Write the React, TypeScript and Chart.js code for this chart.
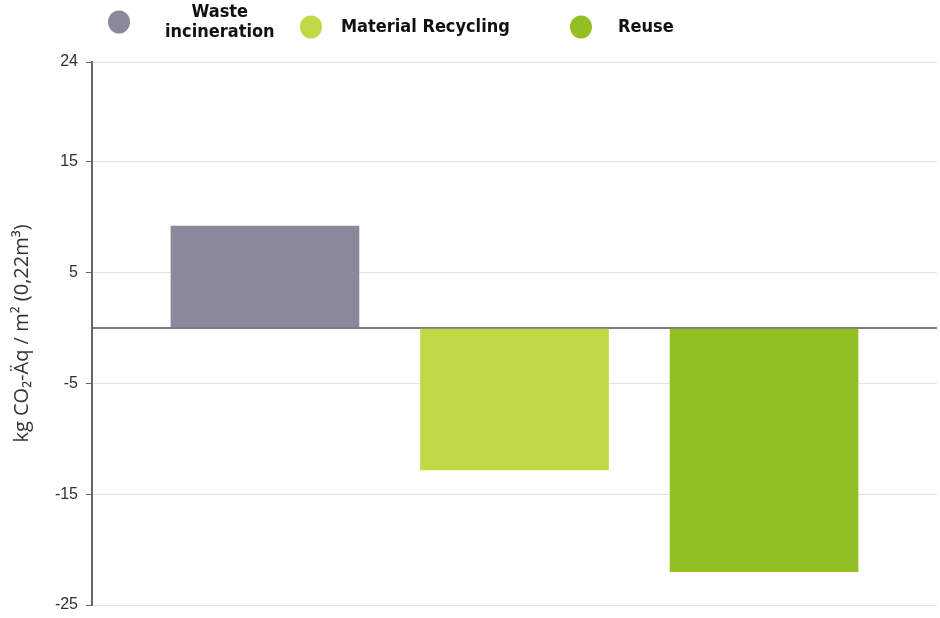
import React, { useEffect, useRef } from "react";
import { Chart, registerables } from "chart.js";

Chart.register(...registerables);

// ---- data ----
const CATEGORIES: string[][] = [["Waste", "incineration"], ["Material Recycling"], ["Reuse"]];
const VALUES: number[] = [9.2, -12.8, -22];
const Y_TICKS: number[] = [24, 15, 5, 0, -5, -15, -25];
const Y_TITLE = "kg CO₂-Äq / m² (0,22m³)";

// ---- styles ----
const COLORS = ["#8a899b", "#c0d846", "#92bf22"];
const LEGEND_LAYOUT = [
  { cx: 119, cy: 22, tx: 165 },
  { cx: 311, cy: 27, tx: 341 },
  { cx: 581, cy: 27, tx: 618 },
];
const LEGEND_FONT = "bold 18px 'Liberation Sans Narrow', 'DejaVu Sans Condensed', sans-serif";

const legendPlugin = {
  id: "customTopLegend",
  afterDraw(chart: any) {
    const ctx = chart.ctx as CanvasRenderingContext2D;
    ctx.save();
    chart.data.datasets.forEach((ds: any, i: number) => {
      const lay = LEGEND_LAYOUT[i];
      ctx.beginPath();
      ctx.fillStyle = ds.backgroundColor;
      ctx.ellipse(lay.cx, lay.cy, 11, 11.5, 0, 0, Math.PI * 2);
      ctx.fill();
      ctx.font = LEGEND_FONT;
      ctx.fillStyle = "#111";
      ctx.textBaseline = "middle";
      const lines: string[] = ds.legendLines;
      const widths = lines.map((l) => ctx.measureText(l).width);
      const maxW = Math.max(...widths);
      const lh = 20;
      const startY = lay.cy - ((lines.length - 1) * lh) / 2;
      lines.forEach((l, k) => {
        ctx.textAlign = "center";
        ctx.fillText(l, lay.tx + maxW / 2, startY + k * lh);
      });
    });
    ctx.restore();
  },
};

export default function App() {
  const ref = useRef<HTMLCanvasElement | null>(null);

  useEffect(() => {
    if (!ref.current) return;
    const chart = new Chart(ref.current, {
      type: "bar",
      data: {
        datasets: CATEGORIES.map((c, i) => ({
          label: c.join(" "),
          legendLines: c,
          data: [{ x: i, y: VALUES[i] }],
          backgroundColor: COLORS[i],
          borderWidth: 0,
          grouped: false,
          barThickness: 188,
        })) as any,
      },
      options: {
        animation: false,
        responsive: false,
        maintainAspectRatio: false,
        layout: { padding: { top: 62, right: 3, bottom: 13, left: 0 } },
        plugins: {
          legend: { display: false },
          tooltip: { enabled: false },
        },
        scales: {
          x: {
            type: "linear",
            min: -0.693,
            max: 2.693,
            offset: false,
            display: false,
          },
          y: {
            min: -25,
            max: 24,
            afterBuildTicks: (s: any) => {
              s.ticks = Y_TICKS.map((v) => ({ value: v }));
            },
            afterFit: (s: any) => {
              s.width = 92;
              s.paddingBottom = 0;
              s.paddingTop = 0;
            },
            ticks: {
              color: "#2e2e3a",
              font: { family: "'Liberation Sans', Arial, sans-serif", size: 16 },
              padding: 8,
              callback: (v: any) => (v === 0 ? "" : String(v)),
            },
            grid: {
              color: (c: any) => (c.tick && c.tick.value === 0 ? "#7a7a7a" : "#e4e4e4"),
              lineWidth: (c: any) => (c.tick && c.tick.value === 0 ? 2 : 1),
              tickColor: (c: any) => (c.tick && c.tick.value === 0 ? "rgba(0,0,0,0)" : "#666"),
              tickLength: 6,
            },
            border: { color: "#666", width: 2 },
            title: {
              display: true,
              text: Y_TITLE,
              color: "#333",
              font: { family: "'Open Sans', sans-serif", size: 20 },
              padding: { top: 10, bottom: 0 },
            },
          },
        },
      } as any,
      plugins: [legendPlugin],
    });
    return () => chart.destroy();
  }, []);

  return (
    <div style={{ position: "fixed", left: 0, top: 0, width: 940, height: 618, background: "#fff" }}>
      <canvas ref={ref} width={940} height={618} style={{ width: 940, height: 618 }} />
    </div>
  );
}
